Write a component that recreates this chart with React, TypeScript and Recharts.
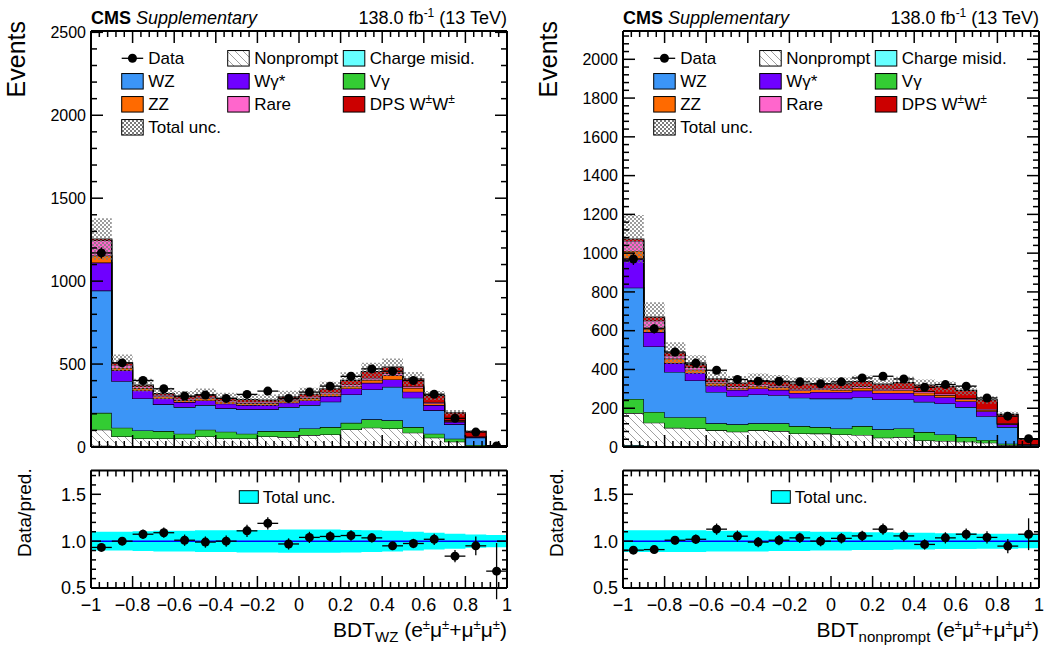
import React from 'react';
import { ComposedChart, Area, Scatter, XAxis, YAxis, ErrorBar, ReferenceLine } from 'recharts';

const FONT = '"Liberation Sans", Arial, Helvetica, sans-serif';

// 20 bins of the BDT score between -1 and 1
const binEdges = [-1, -0.9, -0.8, -0.7, -0.6, -0.5, -0.4, -0.3, -0.2, -0.1, 0, 0.1, 0.2, 0.3, 0.4, 0.5, 0.6, 0.7, 0.8, 0.9, 1];
const binCenters = [-0.95, -0.85, -0.75, -0.65, -0.55, -0.45, -0.35, -0.25, -0.15, -0.05, 0.05, 0.15, 0.25, 0.35, 0.45, 0.55, 0.65, 0.75, 0.85, 0.95];

// ---- left: BDT_WZ ----
const wzChargeMisid = [8, 2, 2, 2, 2, 2, 2, 2, 2, 2, 2, 2, 2, 2, 2, 2, 2, 1, 1, 0];
const wzNonprompt = [96, 62, 50, 50, 50, 62, 50, 50, 62, 58, 70, 74, 104, 114, 110, 84, 54, 31, 5, 1];
const wzVgamma = [102, 52, 48, 44, 28, 40, 40, 28, 32, 36, 40, 44, 40, 51, 49, 34, 24, 18, 6, 1];
const wzWZ = [737, 281, 193, 161, 161, 149, 141, 147, 131, 145, 141, 153, 171, 180, 202, 177, 141, 87, 44, 2];
const wzWgs = [169, 65, 48, 36, 30, 28, 28, 26, 26, 26, 28, 34, 36, 40, 44, 36, 32, 14, 4, 0.5];
const wzZZ = [42, 15, 14, 12, 12, 13, 12, 12, 12, 13, 14, 14, 14, 18, 25, 24, 10, 5, 2, 0.5];
const wzRare = [92, 18, 10, 9, 8, 8, 8, 8, 8, 8, 8, 9, 10, 12, 12, 10, 7, 5, 2, 0.5];
const wzDPS = [8, 12, 8, 8, 13, 14, 12, 13, 10, 14, 15, 20, 25, 38, 37, 44, 40, 45, 31, 3.5];
const wzData = [1170, 507, 401, 351, 307, 313, 293, 317, 337, 293, 331, 367, 426, 471, 457, 401, 318, 173, 90, 6];
const wzDataErr = [34, 23, 20, 19, 18, 18, 17, 18, 18, 17, 18, 19, 21, 22, 21, 20, 18, 13, 9.5, 2.5];
const wzUnc = [0.1, 0.1, 0.105, 0.11, 0.11, 0.115, 0.115, 0.12, 0.12, 0.125, 0.125, 0.125, 0.12, 0.115, 0.11, 0.1, 0.09, 0.08, 0.07, 0.065];
const wzRatio = [0.933, 1.0, 1.074, 1.09, 1.01, 0.99, 1.0, 1.11, 1.19, 0.97, 1.04, 1.05, 1.06, 1.035, 0.95, 0.975, 1.02, 0.84, 0.95, 0.68];
const wzRatioErr = [0.03, 0.045, 0.05, 0.055, 0.06, 0.06, 0.06, 0.065, 0.065, 0.06, 0.06, 0.055, 0.055, 0.05, 0.045, 0.05, 0.06, 0.065, 0.1, 0.3];

// ---- right: BDT_nonprompt ----
const npChargeMisid = [10, 3, 2, 2, 2, 2, 2, 2, 2, 2, 2, 2, 2, 2, 1, 1, 1, 1, 1, 0];
const npNonprompt = [165, 122, 97, 94, 84, 77, 84, 80, 68, 67, 63, 60, 46, 49, 33, 30, 26, 21, 9, 2];
const npVgamma = [73, 56, 55, 58, 36, 38, 36, 40, 38, 34, 31, 46, 43, 45, 43, 34, 24, 14, 7, 2];
const npWZ = [574, 338, 233, 189, 162, 145, 149, 145, 146, 147, 154, 149, 154, 149, 156, 160, 155, 123, 86, 6];
const npWgs = [148, 74, 46, 39, 33, 33, 31, 28, 25, 34, 34, 34, 34, 34, 34, 32, 30, 26, 14, 2];
const npZZ = [41, 24, 23, 17, 14, 10, 13, 13, 13, 13, 11, 14, 13, 14, 13, 11, 9, 6, 3, 1];
const npRare = [52, 35, 15, 12, 8, 8, 9, 9, 8, 8, 8, 8, 8, 8, 7, 7, 6, 5, 3, 1];
const npDPS = [10, 18, 14, 14, 12, 17, 18, 19, 25, 21, 23, 24, 24, 31, 32, 36, 41, 47, 45, 26];
const npData = [970, 610, 490, 433, 396, 348, 339, 339, 336, 326, 336, 356, 365, 351, 308, 322, 314, 253, 159, 43];
const npDataErr = [31, 25, 22, 21, 20, 19, 18, 18, 18, 18, 18, 19, 19, 19, 18, 18, 18, 16, 12.6, 6.6];
const npUnc = [0.115, 0.115, 0.115, 0.115, 0.11, 0.11, 0.11, 0.105, 0.105, 0.1, 0.1, 0.095, 0.095, 0.09, 0.09, 0.085, 0.085, 0.08, 0.08, 0.075];
const npRatio = [0.904, 0.91, 1.01, 1.02, 1.128, 1.053, 0.99, 1.01, 1.035, 1.0, 1.03, 1.056, 1.128, 1.056, 0.965, 1.035, 1.074, 1.04, 0.947, 1.074];
const npRatioErr = [0.03, 0.04, 0.045, 0.05, 0.06, 0.06, 0.055, 0.055, 0.055, 0.055, 0.055, 0.055, 0.06, 0.06, 0.055, 0.06, 0.06, 0.065, 0.075, 0.17];

const COLORS = {
  cm: '#66ffff',
  vg: '#33cc33',
  wz: '#3b95f7',
  wgs: '#6f00ff',
  zz: '#ff6a00',
  rare: '#ff66cc',
  dps: '#cc0000',
};

const STACK = ['cm', 'np', 'vg', 'wz', 'wgs', 'zz', 'rare', 'dps'];

const tickValues = (start: number, stop: number, step: number) => {
  const out: number[] = [];
  const n = Math.round((stop - start) / step);
  for (let i = 0; i <= n; i++) out.push(Math.round((start + i * step) * 1000) / 1000);
  return out;
};

const xTicks = tickValues(-1, 1, 0.04);
const ratioTicks = tickValues(0.5, 1.7, 0.1);

const fmtX = (v: number) => (v === 0 ? '0' : (v < 0 ? '\u2212' : '') + String(Math.abs(v)));

// ROOT style ticks: pointing inwards, long at major and short at minor positions
function frameTick(side: string, major: number, majorLen: number, minorLen: number, fmt?: (v: number) => string, fs = 16) {
  return (props: any) => {
    const { x, y, payload } = props;
    const v = Number(payload.value);
    const isMajor = Math.abs(v / major - Math.round(v / major)) < 1e-6;
    const len = isMajor ? majorLen : minorLen;
    const dx = side === 'left' ? len : side === 'right' ? -len : 0;
    const dy = side === 'top' ? len : side === 'bottom' ? -len : 0;
    return (
      <g>
        <path d={`M${x},${y}L${x + dx},${y + dy}`} stroke="#000" strokeWidth={1.5} fill="none" />
        {fmt && isMajor && side === 'left' && (
          <text x={x - 5} y={y + fs * 0.36} textAnchor="end" fontSize={fs} fontFamily={FONT} fill="#000">{fmt(v)}</text>
        )}
        {fmt && isMajor && side === 'bottom' && (
          <text x={x} y={y + 23} textAnchor="middle" fontSize={fs} fontFamily={FONT} fill="#000">{fmt(v)}</text>
        )}
      </g>
    );
  };
}

const frameLine = { stroke: '#000', strokeWidth: 2 };

function Patterns({ id }: { id: string }) {
  return (
    <defs>
      <pattern id={`np-${id}`} patternUnits="userSpaceOnUse" width={8} height={8}>
        <rect width={8} height={8} fill="#fff" />
        <path d="M0,0 L8,8 M-2,6 L2,10 M6,-2 L10,2" stroke="#a0a0a0" strokeWidth={1} />
      </pattern>
      <pattern id={`unc-${id}`} patternUnits="userSpaceOnUse" width={4} height={4}>
        <rect x={0} y={0} width={2} height={2} fill="#7a7a7a" />
        <rect x={2} y={2} width={2} height={2} fill="#7a7a7a" />
      </pattern>
    </defs>
  );
}

const W = 512;
const MR = 4;

function MainPlot({ id, comps, data, dataErr, unc, yMax, yStep, yMajor }: any) {
  const rows = binEdges.map((x, i) => {
    const k = Math.min(i, binCenters.length - 1);
    const row: any = { x };
    let total = 0;
    STACK.forEach((key) => {
      row[key] = comps[key][k];
      total += comps[key][k];
    });
    row.unc = [total * (1 - unc[k]), total * (1 + unc[k])];
    return row;
  });
  const points = binCenters.map((x, i) => ({ x, y: data[i], ex: 0.05, ey: dataErr[i] }));
  const yTicks = tickValues(0, Math.floor(yMax / yStep) * yStep, yStep);

  return (
    <ComposedChart width={W} height={460} data={rows} margin={{ top: 30, right: MR, bottom: 12, left: 0 }}>
      <Patterns id={id} />
      {STACK.map((key) => (
        <Area key={key} dataKey={key} stackId="bkg" type="stepAfter"
          fill={key === 'np' ? `url(#np-${id})` : (COLORS as any)[key]} fillOpacity={1}
          stroke="#000" strokeWidth={1.2} isAnimationActive={false} />
      ))}
      <Area dataKey="unc" type="stepAfter" fill={`url(#unc-${id})`} fillOpacity={0.75} stroke="none" isAnimationActive={false} />
      <Scatter data={points} dataKey="y" isAnimationActive={false}
        shape={(p: any) => <circle cx={p.cx} cy={p.cy} r={4.5} fill="#000" />}>
        <ErrorBar dataKey="ex" direction="x" width={0} stroke="#000" strokeWidth={1.3} />
        <ErrorBar dataKey="ey" direction="y" width={0} stroke="#000" strokeWidth={1.3} />
      </Scatter>
      <XAxis dataKey="x" type="number" domain={[-1, 1]} allowDataOverflow ticks={xTicks} interval={0}
        height={1} tickSize={0} tickMargin={0} tickLine={false} axisLine={frameLine}
        tick={frameTick('bottom', 0.2, 12, 6)} />
      <XAxis xAxisId="top" dataKey="x" orientation="top" type="number" domain={[-1, 1]} allowDataOverflow ticks={xTicks} interval={0}
        height={1} tickSize={0} tickMargin={0} tickLine={false} axisLine={frameLine}
        tick={frameTick('top', 0.2, 12, 6)} />
      <YAxis type="number" domain={[0, yMax]} allowDataOverflow ticks={yTicks} interval={0} width={91}
        tickSize={0} tickMargin={0} tickLine={false} axisLine={frameLine}
        tick={frameTick('left', yMajor, 12, 6, (v) => String(v), 16)} />
      <YAxis yAxisId="right" orientation="right" type="number" domain={[0, yMax]} allowDataOverflow ticks={yTicks} interval={0} width={1}
        tickSize={0} tickMargin={0} tickLine={false} axisLine={frameLine}
        tick={frameTick('right', yMajor, 12, 6)} />
    </ComposedChart>
  );
}

function RatioPlot({ unc, ratio, ratioErr }: any) {
  const rows = binEdges.map((x, i) => {
    const k = Math.min(i, binCenters.length - 1);
    return { x, band: [1 - unc[k], 1 + unc[k]] };
  });
  const points = binCenters.map((x, i) => ({ x, y: ratio[i], ex: 0.05, ey: ratioErr[i] }));

  return (
    <ComposedChart width={W} height={189} data={rows} margin={{ top: 9.4, right: MR, bottom: 60, left: 0 }}>
      <Area dataKey="band" type="stepAfter" fill="#00ffff" fillOpacity={1} stroke="none" isAnimationActive={false} />
      <ReferenceLine y={1} stroke="#0000ff" strokeWidth={1.5} />
      <Scatter data={points} dataKey="y" isAnimationActive={false}
        shape={(p: any) => <circle cx={p.cx} cy={p.cy} r={4.5} fill="#000" />}>
        <ErrorBar dataKey="ex" direction="x" width={0} stroke="#000" strokeWidth={1.3} />
        <ErrorBar dataKey="ey" direction="y" width={0} stroke="#000" strokeWidth={1.3} />
      </Scatter>
      <XAxis dataKey="x" type="number" domain={[-1, 1]} allowDataOverflow ticks={xTicks} interval={0}
        height={1} tickSize={0} tickMargin={0} tickLine={false} axisLine={frameLine}
        tick={frameTick('bottom', 0.2, 12, 6, fmtX, 18)} />
      <XAxis xAxisId="top" dataKey="x" orientation="top" type="number" domain={[-1, 1]} allowDataOverflow ticks={xTicks} interval={0}
        height={1} tickSize={0} tickMargin={0} tickLine={false} axisLine={frameLine}
        tick={frameTick('top', 0.2, 12, 6)} />
      <YAxis type="number" domain={[0.5, 1.755]} allowDataOverflow ticks={ratioTicks} interval={0} width={91}
        tickSize={0} tickMargin={0} tickLine={false} axisLine={frameLine}
        tick={frameTick('left', 0.5, 10, 5, (v) => v.toFixed(1), 18)} />
      <YAxis yAxisId="right" orientation="right" type="number" domain={[0.5, 1.755]} allowDataOverflow ticks={ratioTicks} interval={0} width={1}
        tickSize={0} tickMargin={0} tickLine={false} axisLine={frameLine}
        tick={frameTick('right', 0.5, 10, 5)} />
    </ComposedChart>
  );
}

function Overlay({ dx, sub }: { dx: number; sub: string }) {
  const colX = [121.7, 227.7, 343.3].map((v) => v + dx);
  const rowY = [58.3, 81.3, 104.3, 127.3];
  const bw = 21.5;
  const bh = 15.5;
  const box = (c: number, r: number, fill: string) => (
    <rect x={colX[c]} y={rowY[r] - bh / 2} width={bw} height={bh} fill={fill} stroke="#000" strokeWidth={1} />
  );
  const label = (c: number, r: number, content: any) => (
    <text x={colX[c] + 26.5} y={rowY[r] + 6} fontSize={17} fontFamily={FONT} fill="#000">{content}</text>
  );
  const right = 507 + dx;
  return (
    <g>
      <text x={91 + dx} y={24} fontSize={18} fontFamily={FONT} fill="#000">
        <tspan fontWeight="bold">CMS</tspan>
        <tspan dx={5} fontStyle="italic">Supplementary</tspan>
      </text>
      <text x={right} y={24} textAnchor="end" fontSize={18} fontFamily={FONT} fill="#000">
        138.0 fb<tspan dy={-7} fontSize={12}>-1</tspan><tspan dy={7}> (13 TeV)</tspan>
      </text>

      {/* legend */}
      <line x1={colX[0]} x2={colX[0] + bw} y1={rowY[0]} y2={rowY[0]} stroke="#000" strokeWidth={1.3} />
      <circle cx={colX[0] + bw / 2} cy={rowY[0]} r={4.5} fill="#000" />
      {label(0, 0, 'Data')}
      {box(1, 0, 'url(#np-leg)')}
      {label(1, 0, 'Nonprompt')}
      {box(2, 0, COLORS.cm)}
      {label(2, 0, 'Charge misid.')}
      {box(0, 1, COLORS.wz)}
      {label(0, 1, 'WZ')}
      {box(1, 1, COLORS.wgs)}
      {label(1, 1, 'W\u03b3*')}
      {box(2, 1, COLORS.vg)}
      {label(2, 1, 'V\u03b3')}
      {box(0, 2, COLORS.zz)}
      {label(0, 2, 'ZZ')}
      {box(1, 2, COLORS.rare)}
      {label(1, 2, 'Rare')}
      {box(2, 2, COLORS.dps)}
      {label(2, 2, <>DPS W<tspan dy={-7} fontSize={12}>±</tspan><tspan dy={7}>W</tspan><tspan dy={-7} fontSize={12}>±</tspan></>)}
      {box(0, 3, 'url(#unc-leg)')}
      {label(0, 3, 'Total unc.')}

      {/* ratio legend */}
      <rect x={239.3 + dx} y={490.7} width={19} height={12.6} fill="#00ffff" stroke="#000" strokeWidth={1} />
      <text x={262.7 + dx} y={502.5} fontSize={17} fontFamily={FONT} fill="#000">Total unc.</text>

      {/* axis titles */}
      <text transform="rotate(-90)" x={-21} y={25 + dx} textAnchor="end" fontSize={25} fontFamily={FONT} fill="#000">Events</text>
      <text transform="rotate(-90)" x={-468.3} y={31 + dx} textAnchor="end" fontSize={19} fontFamily={FONT} fill="#000">Data/pred.</text>
      <text x={right} y={637} textAnchor="end" fontSize={21} fontFamily={FONT} fill="#000">
        BDT<tspan fontSize={15} dy={5}>{sub}</tspan>
        <tspan dy={-5}> (e</tspan>
        <tspan dy={-8} fontSize={13}>±</tspan>
        <tspan dy={8}>{'\u03bc'}</tspan>
        <tspan dy={-8} fontSize={13}>±</tspan>
        <tspan dy={8}>{'+\u03bc'}</tspan>
        <tspan dy={-8} fontSize={13}>±</tspan>
        <tspan dy={8}>{'\u03bc'}</tspan>
        <tspan dy={-8} fontSize={13}>±</tspan>
        <tspan dy={8}>)</tspan>
      </text>
    </g>
  );
}

export default function App() {
  const wzComps = { cm: wzChargeMisid, np: wzNonprompt, vg: wzVgamma, wz: wzWZ, wgs: wzWgs, zz: wzZZ, rare: wzRare, dps: wzDPS };
  const npComps = { cm: npChargeMisid, np: npNonprompt, vg: npVgamma, wz: npWZ, wgs: npWgs, zz: npZZ, rare: npRare, dps: npDPS };
  return (
    <div style={{ position: 'absolute', left: 0, top: 0, width: 1044, height: 649, background: '#fff', overflow: 'hidden' }}>
      <div style={{ position: 'absolute', left: 0, top: 0 }}>
        <MainPlot id="l" comps={wzComps} data={wzData} dataErr={wzDataErr} unc={wzUnc} yMax={2508} yStep={100} yMajor={500} />
      </div>
      <div style={{ position: 'absolute', left: 0, top: 460 }}>
        <RatioPlot unc={wzUnc} ratio={wzRatio} ratioErr={wzRatioErr} />
      </div>
      <div style={{ position: 'absolute', left: 532, top: 0 }}>
        <MainPlot id="r" comps={npComps} data={npData} dataErr={npDataErr} unc={npUnc} yMax={2146} yStep={40} yMajor={200} />
      </div>
      <div style={{ position: 'absolute', left: 532, top: 460 }}>
        <RatioPlot unc={npUnc} ratio={npRatio} ratioErr={npRatioErr} />
      </div>
      <svg width={1044} height={649} style={{ position: 'absolute', left: 0, top: 0, pointerEvents: 'none' }}>
        <Patterns id="leg" />
        <Overlay dx={0} sub="WZ" />
        <Overlay dx={532} sub="nonprompt" />
      </svg>
    </div>
  );
}
